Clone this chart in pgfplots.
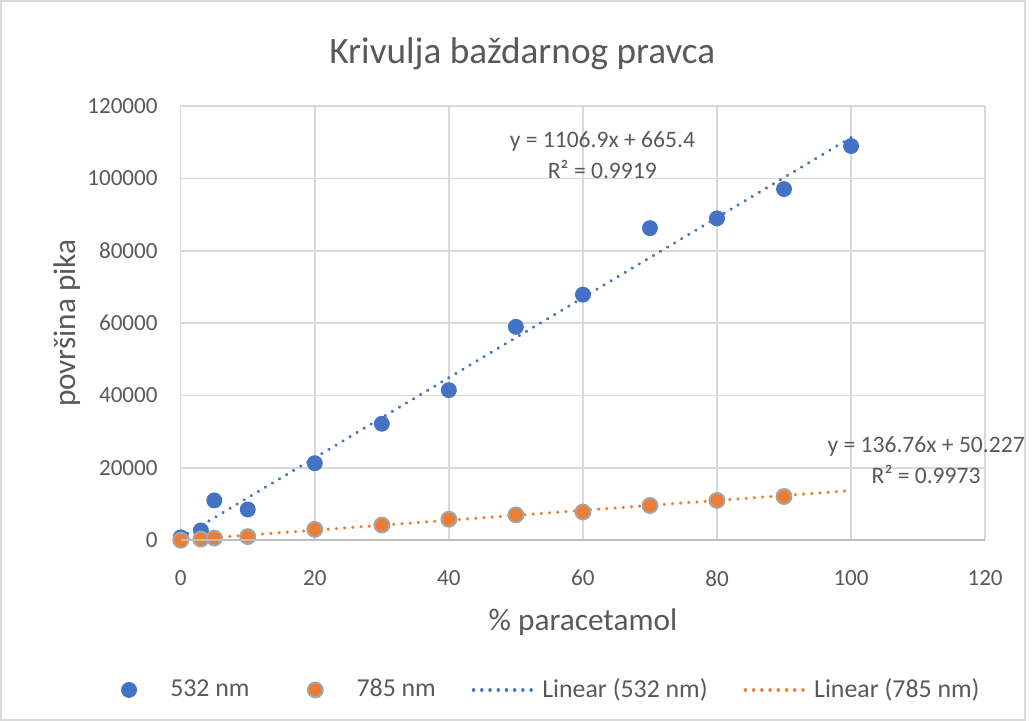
\documentclass[border=0pt]{standalone}
\usepackage{pgfplots}
\pgfplotsset{compat=1.18}
\usepackage{fontspec}
\setmainfont{Carlito}
\usetikzlibrary{calc}
\definecolor{cblue}{HTML}{4472C4}
\definecolor{corange}{HTML}{ED7D31}
\definecolor{cgrid}{HTML}{D9D9D9}
\definecolor{ctext}{HTML}{595959}
\definecolor{cedge}{HTML}{A5A5A5}
\pgfplotsset{
  lineleg/.style={legend image code/.code={\draw[##1] (0pt,0pt) -- (25pt,0pt);}},
  markleg/.style={legend image code/.code={\path[draw=none,fill=none] (0pt,-2pt) rectangle (26.6pt,2pt); \draw[mark repeat=2,mark phase=2,##1] plot coordinates {(0pt,0pt)(12pt,0pt)(26.6pt,0pt)};}},
}
\begin{document}
\begin{tikzpicture}
\begin{axis}[name=ax, scale only axis, width=324pt, height=174.8pt,
  xmin=0, xmax=120, ymin=0, ymax=120000,
  xtick={0,20,...,120}, ytick={0,20000,...,120000},
  grid=major, major grid style={cgrid, line width=0.6pt},
  axis line style={draw=none}, tick style={draw=none},
  scaled y ticks=false,
  /pgf/number format/.cd, fixed, 1000 sep={}, assume math mode=true, /pgfplots/.cd,
  ticklabel style={font=\fontsize{9.3}{11}\selectfont, text=ctext},
  xticklabel style={yshift=-8.6pt},
  yticklabel style={xshift=-5.8pt},
  xlabel={\% paracetamol}, ylabel={površina pika},
  label style={font=\fontsize{12.6}{15}\selectfont, text=ctext},
  xlabel style={yshift=-2.2pt},
  ylabel style={yshift=-4pt},
  legend columns=4,
  legend style={at={(0.449,-0.345)}, anchor=center, draw=none, fill=none,
    font=\fontsize{10.4}{12}\selectfont, text=ctext,
    /tikz/every even column/.append style={column sep=12.5pt}},
  clip=false,
]
\addplot[only marks, mark=*, mark size=3pt, color=cblue, mark options={draw=cblue, fill=cblue}, markleg]
 coordinates {(0,800)(3,2700)(5,11000)(10,8500)(20,21300)(30,32200)(40,41500)(50,59000)(60,67900)(70,86300)(80,89000)(90,97100)(100,109000)};
\addlegendentry{532 nm}
\addplot[only marks, mark=*, mark size=3pt, mark options={draw=cedge, fill=corange, line width=0.8pt}, markleg]
 coordinates {(0,0)(3,300)(5,600)(10,1000)(20,3000)(30,4200)(40,5800)(50,7000)(60,7800)(70,9600)(80,11000)(90,12100)};
\addlegendentry{785 nm}
\addplot[cblue, line width=1.4pt, line cap=round, dash pattern=on 0.01pt off 3.3pt, lineleg]
 coordinates {(0,665.4)(100,111355.4)};
\addlegendentry{Linear (532 nm)}
\addplot[corange, line width=1.4pt, line cap=round, dash pattern=on 0.01pt off 3.3pt, lineleg]
 coordinates {(0,50.227)(100,13726.227)};
\addlegendentry{Linear (785 nm)}
\node[align=center, text=ctext, font=\fontsize{9.5}{12.4}\selectfont] at (axis cs:62.9,106400) {y = 1106.9x + 665.4\\R² = 0.9919};
\node[align=center, text=ctext, font=\fontsize{9.5}{12.4}\selectfont] at (axis cs:111.2,22100) {y = 136.76x + 50.227\\R² = 0.9973};
\end{axis}
\draw[cgrid!70!gray, line width=0.8pt] (ax.south west) -- (ax.south east);
\node[text=ctext, font=\fontsize{15}{18}\selectfont] at ($(ax.north)+(-24.4pt,21pt)$) {Krivulja baždarnog pravca};
\draw[cgrid, line width=0.6pt] ($(ax.south west)+(-72.4pt,-72.4pt)$) rectangle ($(ax.north east)+(16pt,42.4pt)$);
\useasboundingbox ($(ax.south west)+(-72.8pt,-72.8pt)$) rectangle ($(ax.north east)+(16.4pt,42.8pt)$);
\end{tikzpicture}
\end{document}
